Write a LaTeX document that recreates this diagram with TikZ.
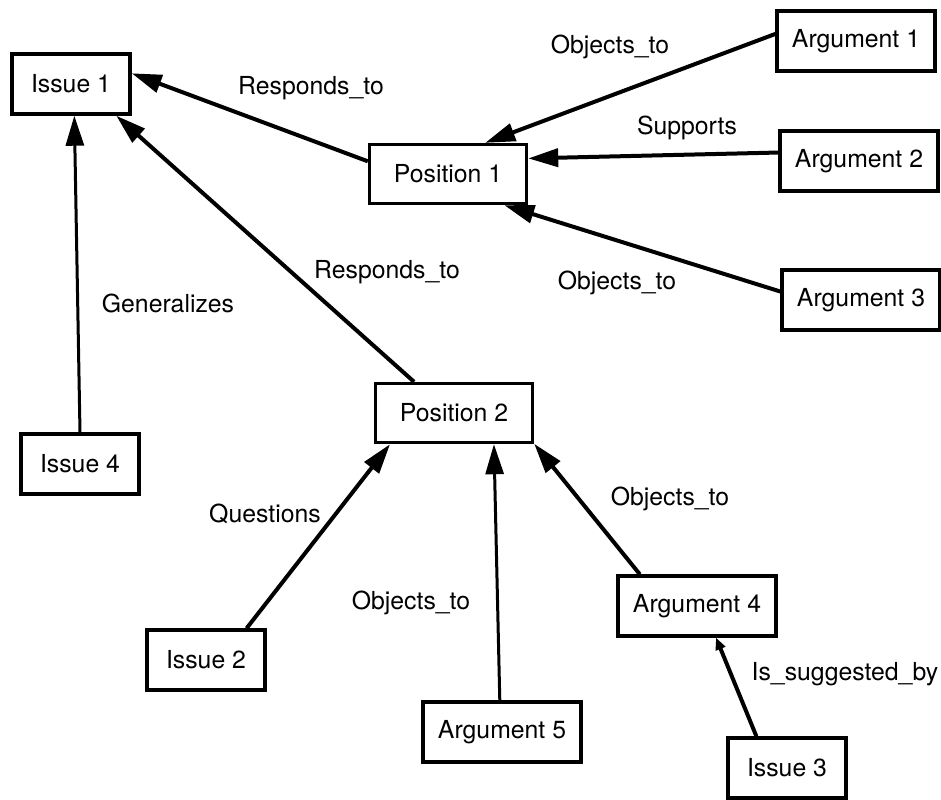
\documentclass[tikz,border=0pt]{standalone}
\usepackage{fontspec}
\setmainfont{TeX Gyre Heros}
\usetikzlibrary{arrows.meta}
\begin{document}
\begin{tikzpicture}[x=0.5pt,y=-0.5pt,
  box/.style={draw,line width=1.7pt,inner sep=0pt,font=\fontsize{12.4pt}{14pt}\selectfont},
  issue/.style={box,minimum width=59pt,minimum height=30pt},
  argument/.style={box,minimum width=79pt,minimum height=30pt},
  position/.style={box,minimum width=78.5pt,minimum height=29.5pt},
  lbl/.style={inner sep=0pt,font=\fontsize{12.4pt}{14pt}\selectfont},
  link/.style={line width=2pt,-{Triangle[length=15pt,width=9pt]}},
  thinlink/.style={link,line width=1.5pt},
  smalllink/.style={line width=2pt,-{Triangle[length=6pt,width=5pt]}}]
\useasboundingbox (0,0) rectangle (941,799);

% nodes
\node[issue]    (i1) at (71,84)   {Issue 1};
\node[position] (p1) at (448,174) {Position 1};
\node[argument] (a1) at (856,41)  {Argument 1};
\node[argument] (a2) at (859,161) {Argument 2};
\node[argument] (a3) at (861,300) {Argument 3};
\node[position] (p2) at (454,413) {Position 2};
\node[issue]    (i4) at (80,464)  {Issue 4};
\node[issue]    (i2) at (206,660) {Issue 2};
\node[argument] (a5) at (502,732) {Argument 5};
\node[argument] (a4) at (697,606) {Argument 4};
\node[issue]    (i3) at (787,768) {Issue 3};

% relation labels
\node[lbl] (lr1) at (311,88)  {Responds\_to};
\node[lbl] (lo1) at (610,47)  {Objects\_to};
\node[lbl] (ls)  at (687,128) {Supports};
\node[lbl] (lo2) at (617,283) {Objects\_to};
\node[lbl] (lr2) at (387,272) {Responds\_to};
\node[lbl] (lg)  at (168,303) {Generalizes};
\node[lbl] (lq)  at (265,514) {Questions};
\node[lbl] (lo3) at (411,603) {Objects\_to};
\node[lbl] (lo4) at (670,499) {Objects\_to};
\node[lbl] (lis) at (845,674) {Is\_suggested\_by};

% connectors
\draw[link] (p1.171) -- (i1.10);
\draw[link] (p2.142) -- (i1.-35);
\draw[thinlink] (i4.north) -- (i1.-84);
\draw[link] (a1.175) -- (p1.40);
\draw[link] (a2.174) -- (p1.11);
\draw[link] (a3.174) -- (p1.-29);
\draw[link] (i2.38) -- (p2.206);
\draw[thinlink] (a5.94) -- (p2.-38);
\draw[link] (a4.151) -- (p2.-21);
\draw[smalllink] (i3.134) -- (a4.-59);
\end{tikzpicture}
\end{document}
